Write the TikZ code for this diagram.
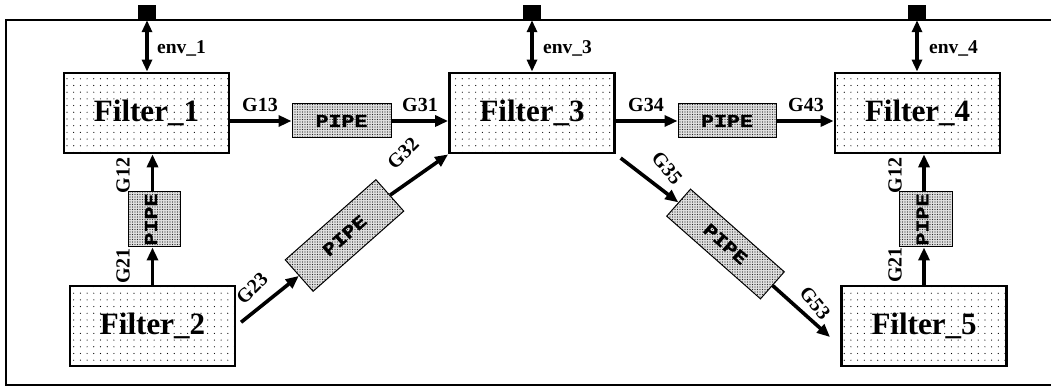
\documentclass[tikz,border=0pt]{standalone}
\usepackage{fontspec}
\setmainfont{Liberation Serif}
\newfontfamily\pipefont[FakeStretch=1.2,FakeBold=1.5]{Liberation Mono}
\usetikzlibrary{arrows.meta,patterns.meta,calc}
\tikzset{
 filt/.style={draw, line width=2.8pt, minimum width=165pt, minimum height=80pt, inner sep=0pt,
   preaction={fill=white}, pattern={Dots[distance=6.7pt,radius=0.6pt]}, pattern color=black,
   font=\bfseries\fontsize{31}{31}\selectfont},
 pipe/.style={draw, line width=1pt, inner sep=0pt, preaction={fill=black!12},
   pattern={Dots[distance=2.5pt,radius=0.6pt]}, pattern color=black!85,
   font=\pipefont\bfseries\fontsize{18}{18}\selectfont},
 conn/.style={line width=3.6pt, -{Triangle[length=13pt,width=11pt]}},
 envconn/.style={line width=3.6pt, {Triangle[length=12pt,width=10pt]}-{Triangle[length=12pt,width=10pt]}},
 glab/.style={font=\bfseries\fontsize{20}{20}\selectfont, inner sep=0pt},
 envlab/.style={font=\bfseries\fontsize{19.5}{19.5}\selectfont, inner sep=0pt, anchor=west},
 port/.style={fill=black, minimum width=18pt, minimum height=15pt, inner sep=0pt},
}
\begin{document}
\begin{tikzpicture}[x=1pt,y=1pt]
\useasboundingbox (0,0) rectangle (1051,387);
% frame
\draw[line width=2.2pt] (1060,367) -- (6,367) -- (6,2) -- (1060,2);
% ports
\node[port] (e1) at (147,374.5) {};
\node[port] (e3) at (532,374.5) {};
\node[port] (e4) at (917,374.5) {};
% filters
\node[filt] (F1) at (146.5,274) {Filter\_1};
\node[filt] (F3) at (532,274) {Filter\_3};
\node[filt] (F4) at (917.5,274) {Filter\_4};
\node[filt] (F2) at (152.5,61) {Filter\_2};
\node[filt] (F5) at (924,61) {Filter\_5};
% pipes
\node[pipe, minimum width=99pt, minimum height=34pt] (P13) at (341.5,266) {PIPE};
\node[pipe, minimum width=98pt, minimum height=34pt] (P34) at (727,266) {PIPE};
\node[pipe, rotate=90, minimum width=55pt, minimum height=52pt] (P12) at (154,167.5) {\raisebox{6pt}{PIPE}};
\node[pipe, rotate=90, minimum width=55pt, minimum height=53pt] (P45) at (925.5,167.5) {\raisebox{6pt}{PIPE}};
\node[pipe, rotate=41.5, minimum width=121pt, minimum height=42pt] (P23) at (344.5,151.5) {PIPE};
\node[pipe, rotate=-41.4, minimum width=125pt, minimum height=36pt] (P35) at (725.5,143) {PIPE};
% env connectors
\draw[envconn] (e1.south) -- (e1.south |- F1.north);
\draw[envconn] (e3.south) -- (e3.south |- F3.north);
\draw[envconn] (e4.south) -- (e4.south |- F4.north);
\node[envlab] (l1) at (157,339) {env\_1};
\node[envlab] (l3) at (543,339) {env\_3};
\node[envlab] (l4) at (929,339) {env\_4};
% horizontal connectors
\draw[conn] (F1.east |- P13.west) -- (P13.west);
\draw[conn] (P13.east) -- (F3.west |- P13.east);
\draw[conn] (F3.east |- P34.west) -- (P34.west);
\draw[conn] (P34.east) -- (F4.west |- P34.east);
\node[glab] (g13) at (260,282) {G13};
\node[glab] (g31) at (420,282) {G31};
\node[glab] (g34) at (646,282) {G34};
\node[glab] (g43) at (806,282) {G43};
% vertical connectors
\draw[conn] (F2.north) -- (F2.north |- P12.west);
\draw[conn] (F2.north |- P12.east) -- (F2.north |- F1.south);
\draw[conn] (F5.north) -- (F5.north |- P45.west);
\draw[conn] (F5.north |- P45.east) -- (F5.north |- F4.south);
\node[glab, rotate=90] (g12a) at (123,211.5) {G12};
\node[glab, rotate=90] (g21a) at (123,121) {G21};
\node[glab, rotate=90] (g12b) at (895,211.5) {G12};
\node[glab, rotate=90] (g21b) at (895,122) {G21};
% diagonal connectors
\coordinate (t53) at (830,50);
\draw[conn, shorten <=6pt] (F2.east) -- (P23.west);
\draw[conn] (P23.east) -- (F3.south west);
\draw[conn, shorten <=6pt] (F3.south east) -- (P35.west);
\draw[conn] (P35.east) -- (t53);
\node[glab, rotate=45] (g23) at (252,99) {G23};
\node[glab, rotate=45] (g32) at (403,234) {G32};
\node[glab, rotate=-50] (g35) at (667,219) {G35};
\node[glab, rotate=-50] (g53) at (815,84) {G53};
\end{tikzpicture}
\end{document}
